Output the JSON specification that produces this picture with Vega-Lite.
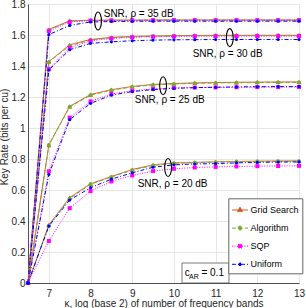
{
  "$schema": "https://vega.github.io/schema/vega-lite/v6.json",
  "width": 271,
  "height": 279,
  "autosize": {"type": "none"},
  "padding": {"left": 28, "top": 4, "right": 7, "bottom": 25},
  "background": "white",
  "config": {
    "font": "Liberation Sans",
    "view": {"stroke": null},
    "axis": {
      "labelFont": "Liberation Sans", "labelFontSize": 10, "labelColor": "#262626",
      "titleFont": "Liberation Sans", "titleFontSize": 10, "titleFontWeight": "normal", "titleColor": "#262626",
      "domainColor": "#262626", "domainWidth": 0.8, "gridColor": "#e1e1e1", "gridWidth": 0.8, "ticks": false,
      "labelOverlap": false, "labelBound": false, "labelFlush": false
    },
    "legend": {
      "labelFont": "Liberation Sans", "labelFontSize": 9, "labelColor": "#000000",
      "padding": 3.2, "rowPadding": 4.1, "labelOffset": 2, "symbolSize": 256, "symbolStrokeWidth": 1,
      "fillColor": "white", "strokeColor": "#666666"
    }
  },
  "datasets": {
    "kr": [
      {"snr": 35, "k": 6.5, "Grid Search": 0, "Algorithm": 0, "SQP": 0, "Uniform": 0},
      {"snr": 35, "k": 7, "Grid Search": 1.636, "Algorithm": 1.633, "SQP": 1.625, "Uniform": 1.602},
      {"snr": 35, "k": 7.5, "Grid Search": 1.692, "Algorithm": 1.689, "SQP": 1.684, "Uniform": 1.662},
      {"snr": 35, "k": 8, "Grid Search": 1.695, "Algorithm": 1.694, "SQP": 1.693, "Uniform": 1.684},
      {"snr": 35, "k": 8.5, "Grid Search": 1.696, "Algorithm": 1.695, "SQP": 1.694, "Uniform": 1.687},
      {"snr": 35, "k": 9, "Grid Search": 1.696, "Algorithm": 1.695, "SQP": 1.694, "Uniform": 1.688},
      {"snr": 35, "k": 9.5, "Grid Search": 1.697, "Algorithm": 1.696, "SQP": 1.695, "Uniform": 1.689},
      {"snr": 35, "k": 10, "Grid Search": 1.697, "Algorithm": 1.696, "SQP": 1.695, "Uniform": 1.689},
      {"snr": 35, "k": 10.5, "Grid Search": 1.697, "Algorithm": 1.696, "SQP": 1.695, "Uniform": 1.689},
      {"snr": 35, "k": 11, "Grid Search": 1.697, "Algorithm": 1.696, "SQP": 1.695, "Uniform": 1.689},
      {"snr": 35, "k": 11.5, "Grid Search": 1.697, "Algorithm": 1.696, "SQP": 1.695, "Uniform": 1.689},
      {"snr": 35, "k": 12, "Grid Search": 1.697, "Algorithm": 1.696, "SQP": 1.695, "Uniform": 1.689},
      {"snr": 35, "k": 12.5, "Grid Search": 1.697, "Algorithm": 1.696, "SQP": 1.695, "Uniform": 1.689},
      {"snr": 35, "k": 13, "Grid Search": 1.697, "Algorithm": 1.696, "SQP": 1.695, "Uniform": 1.689},
      {"snr": 30, "k": 6.5, "Grid Search": 0, "Algorithm": 0, "SQP": 0, "Uniform": 0},
      {"snr": 30, "k": 7, "Grid Search": 1.428, "Algorithm": 1.425, "SQP": 1.38, "Uniform": 1.374},
      {"snr": 30, "k": 7.5, "Grid Search": 1.537, "Algorithm": 1.531, "SQP": 1.518, "Uniform": 1.505},
      {"snr": 30, "k": 8, "Grid Search": 1.571, "Algorithm": 1.568, "SQP": 1.562, "Uniform": 1.546},
      {"snr": 30, "k": 8.5, "Grid Search": 1.585, "Algorithm": 1.583, "SQP": 1.578, "Uniform": 1.556},
      {"snr": 30, "k": 9, "Grid Search": 1.591, "Algorithm": 1.589, "SQP": 1.585, "Uniform": 1.563},
      {"snr": 30, "k": 9.5, "Grid Search": 1.594, "Algorithm": 1.592, "SQP": 1.589, "Uniform": 1.567},
      {"snr": 30, "k": 10, "Grid Search": 1.596, "Algorithm": 1.594, "SQP": 1.591, "Uniform": 1.569},
      {"snr": 30, "k": 10.5, "Grid Search": 1.597, "Algorithm": 1.595, "SQP": 1.592, "Uniform": 1.57},
      {"snr": 30, "k": 11, "Grid Search": 1.598, "Algorithm": 1.596, "SQP": 1.593, "Uniform": 1.571},
      {"snr": 30, "k": 11.5, "Grid Search": 1.598, "Algorithm": 1.596, "SQP": 1.593, "Uniform": 1.571},
      {"snr": 30, "k": 12, "Grid Search": 1.598, "Algorithm": 1.596, "SQP": 1.593, "Uniform": 1.571},
      {"snr": 30, "k": 12.5, "Grid Search": 1.598, "Algorithm": 1.596, "SQP": 1.593, "Uniform": 1.571},
      {"snr": 30, "k": 13, "Grid Search": 1.598, "Algorithm": 1.596, "SQP": 1.593, "Uniform": 1.571},
      {"snr": 25, "k": 6.5, "Grid Search": 0, "Algorithm": 0, "SQP": 0, "Uniform": 0},
      {"snr": 25, "k": 7, "Grid Search": 0.89, "Algorithm": 0.891, "SQP": 0.72, "Uniform": 0.7},
      {"snr": 25, "k": 7.5, "Grid Search": 1.14, "Algorithm": 1.135, "SQP": 1.067, "Uniform": 1.054},
      {"snr": 25, "k": 8, "Grid Search": 1.216, "Algorithm": 1.212, "SQP": 1.172, "Uniform": 1.159},
      {"snr": 25, "k": 8.5, "Grid Search": 1.247, "Algorithm": 1.244, "SQP": 1.22, "Uniform": 1.212},
      {"snr": 25, "k": 9, "Grid Search": 1.268, "Algorithm": 1.265, "SQP": 1.24, "Uniform": 1.235},
      {"snr": 25, "k": 9.5, "Grid Search": 1.281, "Algorithm": 1.278, "SQP": 1.252, "Uniform": 1.248},
      {"snr": 25, "k": 10, "Grid Search": 1.287, "Algorithm": 1.284, "SQP": 1.258, "Uniform": 1.256},
      {"snr": 25, "k": 10.5, "Grid Search": 1.291, "Algorithm": 1.288, "SQP": 1.261, "Uniform": 1.26},
      {"snr": 25, "k": 11, "Grid Search": 1.293, "Algorithm": 1.291, "SQP": 1.262, "Uniform": 1.263},
      {"snr": 25, "k": 11.5, "Grid Search": 1.295, "Algorithm": 1.292, "SQP": 1.263, "Uniform": 1.265},
      {"snr": 25, "k": 12, "Grid Search": 1.296, "Algorithm": 1.293, "SQP": 1.264, "Uniform": 1.266},
      {"snr": 25, "k": 12.5, "Grid Search": 1.297, "Algorithm": 1.294, "SQP": 1.264, "Uniform": 1.267},
      {"snr": 25, "k": 13, "Grid Search": 1.297, "Algorithm": 1.294, "SQP": 1.265, "Uniform": 1.267},
      {"snr": 20, "k": 6.5, "Grid Search": 0, "Algorithm": 0, "SQP": 0, "Uniform": 0},
      {"snr": 20, "k": 7, "Grid Search": 0.375, "Algorithm": 0.37, "SQP": 0.271, "Uniform": 0.367},
      {"snr": 20, "k": 7.5, "Grid Search": 0.551, "Algorithm": 0.545, "SQP": 0.483, "Uniform": 0.535},
      {"snr": 20, "k": 8, "Grid Search": 0.64, "Algorithm": 0.637, "SQP": 0.593, "Uniform": 0.615},
      {"snr": 20, "k": 8.5, "Grid Search": 0.687, "Algorithm": 0.684, "SQP": 0.655, "Uniform": 0.67},
      {"snr": 20, "k": 9, "Grid Search": 0.732, "Algorithm": 0.728, "SQP": 0.694, "Uniform": 0.711},
      {"snr": 20, "k": 9.5, "Grid Search": 0.762, "Algorithm": 0.758, "SQP": 0.722, "Uniform": 0.747},
      {"snr": 20, "k": 10, "Grid Search": 0.775, "Algorithm": 0.772, "SQP": 0.737, "Uniform": 0.762},
      {"snr": 20, "k": 10.5, "Grid Search": 0.778, "Algorithm": 0.776, "SQP": 0.745, "Uniform": 0.768},
      {"snr": 20, "k": 11, "Grid Search": 0.782, "Algorithm": 0.779, "SQP": 0.749, "Uniform": 0.77},
      {"snr": 20, "k": 11.5, "Grid Search": 0.784, "Algorithm": 0.782, "SQP": 0.752, "Uniform": 0.775},
      {"snr": 20, "k": 12, "Grid Search": 0.786, "Algorithm": 0.784, "SQP": 0.754, "Uniform": 0.778},
      {"snr": 20, "k": 12.5, "Grid Search": 0.787, "Algorithm": 0.785, "SQP": 0.755, "Uniform": 0.78},
      {"snr": 20, "k": 13, "Grid Search": 0.788, "Algorithm": 0.786, "SQP": 0.756, "Uniform": 0.781}
    ],
    "labels": [
      {"t": "SNR, ρ = 35 dB", "k": 8.316, "r": 1.738},
      {"t": "SNR, ρ = 30 dB", "k": 10.45, "r": 1.48},
      {"t": "SNR, ρ = 25 dB", "k": 9.06, "r": 1.179},
      {"t": "SNR, ρ = 20 dB", "k": 9.13, "r": 0.641}
    ],
    "ellipses": [
      {"k": 8.18, "r": 1.69},
      {"k": 11.34, "r": 1.583},
      {"k": 9.74, "r": 1.273},
      {"k": 9.86, "r": 0.745}
    ],
    "carbox": [{"k1": 10.194, "k2": 11.32, "r1": 0, "r2": 0.129, "k": 10.259, "r": 0.043}]
  },
  "layer": [
    {
      "data": {"name": "kr"},
      "transform": [
        {"fold": ["Grid Search", "Algorithm", "SQP", "Uniform"], "as": ["method", "rate"]},
        {"filter": "false"}
      ],
      "mark": {"type": "point", "filled": true, "size": 256, "opacity": 1, "strokeWidth": 1},
      "encoding": {
        "x": {
          "field": "k", "type": "quantitative",
          "scale": {"domain": [6.5, 13], "zero": false, "nice": false},
          "axis": {"values": [7, 8, 9, 10, 11, 12, 13], "labelOverlap": false, "title": "κ, log (base 2) of number of frequency bands", "labelPadding": 5, "titleY": 23, "titleBaseline": "alphabetic"}
        },
        "y": {
          "field": "rate", "type": "quantitative",
          "scale": {"domain": [0, 1.8], "nice": false},
          "axis": {
            "values": [0, 0.2, 0.4, 0.6, 0.8, 1, 1.2, 1.4, 1.6, 1.8], "tickCount": 10, "labelOverlap": false, "labelSeparation": 0, "format": ".1~f", "title": "Key Rate (bits per cu)",
            "labelPadding": 3, "titleX": -20.5, "titleY": 132.5, "titleAngle": 270, "titleAlign": "center", "titleBaseline": "alphabetic"
          }
        },
        "color": {
          "field": "method", "type": "nominal",
          "scale": {"domain": ["Grid Search", "Algorithm", "SQP", "Uniform"], "range": ["#D95319", "#77AC30", "#FF00FF", "#0000FF"]},
          "legend": {
            "title": null, "orient": "none", "legendX": 200.3, "legendY": 194.3,
            "encode": {"symbols": {"update": {"shape": {"scale": "shape", "field": "value"}, "strokeDash": {"scale": "strokeDash", "field": "value"}, "stroke": {"scale": "stroke", "field": "value"}, "fill": {"scale": "color", "field": "value"}}}}
          }
        },
        "stroke": {
          "field": "method", "type": "nominal",
          "scale": {"domain": ["Grid Search", "Algorithm", "SQP", "Uniform"], "range": ["#D95319", "#77AC30", "#FF00FF", "#0000FF"]},
          "legend": {"title": null, "orient": "none", "legendX": 200.3, "legendY": 194.3}
        },
        "strokeDash": {
          "field": "method", "type": "nominal",
          "scale": {"domain": ["Grid Search", "Algorithm", "SQP", "Uniform"], "range": [[1, 0], [4, 2.5], [1, 1.5], [4, 2, 1, 2]]},
          "legend": {"title": null, "orient": "none", "legendX": 200.3, "legendY": 194.3}
        },
        "shape": {
          "field": "method", "type": "nominal",
          "scale": {"domain": ["Grid Search", "Algorithm", "SQP", "Uniform"], "range": [
            "M-1,0H1M0,-0.34L0.31,0.2H-0.31Z",
            "M-1,0H1M0.25,0A0.25,0.25 0 1,1 -0.25,0A0.25,0.25 0 1,1 0.25,0Z",
            "M-1,0H1M-0.24,-0.24H0.24V0.24H-0.24Z",
            "M-1,0H1M0.18,0A0.18,0.18 0 1,1 -0.18,0A0.18,0.18 0 1,1 0.18,0Z"
          ]},
          "legend": {"title": null, "orient": "none", "legendX": 200.3, "legendY": 194.3}
        }
      }
    },
    {
      "data": {"name": "kr"},
      "transform": [{"fold": ["Grid Search", "Algorithm", "SQP", "Uniform"], "as": ["method", "rate"]}],
      "mark": {"type": "line", "strokeWidth": 1},
      "encoding": {
        "x": {"field": "k", "type": "quantitative"},
        "y": {"field": "rate", "type": "quantitative"},
        "color": {"field": "method", "type": "nominal"},
        "strokeDash": {"field": "method", "type": "nominal"},
        "detail": {"field": "snr", "type": "nominal"}
      }
    },
    {
      "data": {"name": "kr"},
      "transform": [{"fold": ["Grid Search", "Algorithm", "SQP", "Uniform"], "as": ["method", "rate"]}, {"filter": "datum.method === 'Grid Search'"}],
      "mark": {"type": "point", "shape": "triangle-up", "filled": true, "size": 24, "opacity": 1},
      "encoding": {"x": {"field": "k", "type": "quantitative"}, "y": {"field": "rate", "type": "quantitative"}, "color": {"field": "method", "type": "nominal"}}
    },
    {
      "data": {"name": "kr"},
      "transform": [{"fold": ["Grid Search", "Algorithm", "SQP", "Uniform"], "as": ["method", "rate"]}, {"filter": "datum.method === 'Algorithm'"}],
      "mark": {"type": "point", "shape": "circle", "filled": true, "size": 16, "opacity": 1},
      "encoding": {"x": {"field": "k", "type": "quantitative"}, "y": {"field": "rate", "type": "quantitative"}, "color": {"field": "method", "type": "nominal"}}
    },
    {
      "data": {"name": "kr"},
      "transform": [{"fold": ["Grid Search", "Algorithm", "SQP", "Uniform"], "as": ["method", "rate"]}, {"filter": "datum.method === 'SQP'"}],
      "mark": {"type": "point", "shape": "square", "filled": true, "size": 16, "opacity": 1},
      "encoding": {"x": {"field": "k", "type": "quantitative"}, "y": {"field": "rate", "type": "quantitative"}, "color": {"field": "method", "type": "nominal"}}
    },
    {
      "data": {"name": "kr"},
      "transform": [{"fold": ["Grid Search", "Algorithm", "SQP", "Uniform"], "as": ["method", "rate"]}, {"filter": "datum.method === 'Uniform'"}],
      "mark": {"type": "point", "shape": "circle", "filled": true, "size": 10, "opacity": 1},
      "encoding": {"x": {"field": "k", "type": "quantitative"}, "y": {"field": "rate", "type": "quantitative"}, "color": {"field": "method", "type": "nominal"}}
    },
    {
      "data": {"name": "ellipses"},
      "mark": {"type": "point", "shape": "M0,-1A0.38,1 0 1,1 0,1A0.38,1 0 1,1 0,-1Z", "filled": false, "size": 324, "stroke": "#000000", "strokeWidth": 1.1, "opacity": 1},
      "encoding": {"x": {"field": "k", "type": "quantitative"}, "y": {"field": "r", "type": "quantitative"}}
    },
    {
      "data": {"name": "labels"},
      "mark": {"type": "text", "align": "left", "baseline": "middle", "fontSize": 10, "font": "Liberation Sans", "color": "#000000"},
      "encoding": {"x": {"field": "k", "type": "quantitative"}, "y": {"field": "r", "type": "quantitative"}, "text": {"field": "t"}}
    },
    {
      "data": {"name": "carbox"},
      "mark": {"type": "rect", "fill": "white", "stroke": "#555555", "strokeWidth": 0.8},
      "encoding": {"x": {"field": "k1", "type": "quantitative"}, "x2": {"field": "k2"}, "y": {"field": "r1", "type": "quantitative"}, "y2": {"field": "r2"}}
    },
    {
      "data": {"name": "carbox"},
      "mark": {"type": "text", "text": "c", "align": "left", "baseline": "alphabetic", "fontSize": 10, "font": "Liberation Sans", "color": "#000000"},
      "encoding": {"x": {"field": "k", "type": "quantitative"}, "y": {"field": "r", "type": "quantitative"}}
    },
    {
      "data": {"name": "carbox"},
      "mark": {"type": "text", "text": "AR", "align": "left", "baseline": "alphabetic", "fontSize": 7, "dx": 4.4, "dy": 3, "font": "Liberation Sans", "color": "#000000"},
      "encoding": {"x": {"field": "k", "type": "quantitative"}, "y": {"field": "r", "type": "quantitative"}}
    },
    {
      "data": {"name": "carbox"},
      "mark": {"type": "text", "text": "= 0.1", "align": "left", "baseline": "alphabetic", "fontSize": 10, "dx": 16.7, "font": "Liberation Sans", "color": "#000000"},
      "encoding": {"x": {"field": "k", "type": "quantitative"}, "y": {"field": "r", "type": "quantitative"}}
    }
  ]
}
